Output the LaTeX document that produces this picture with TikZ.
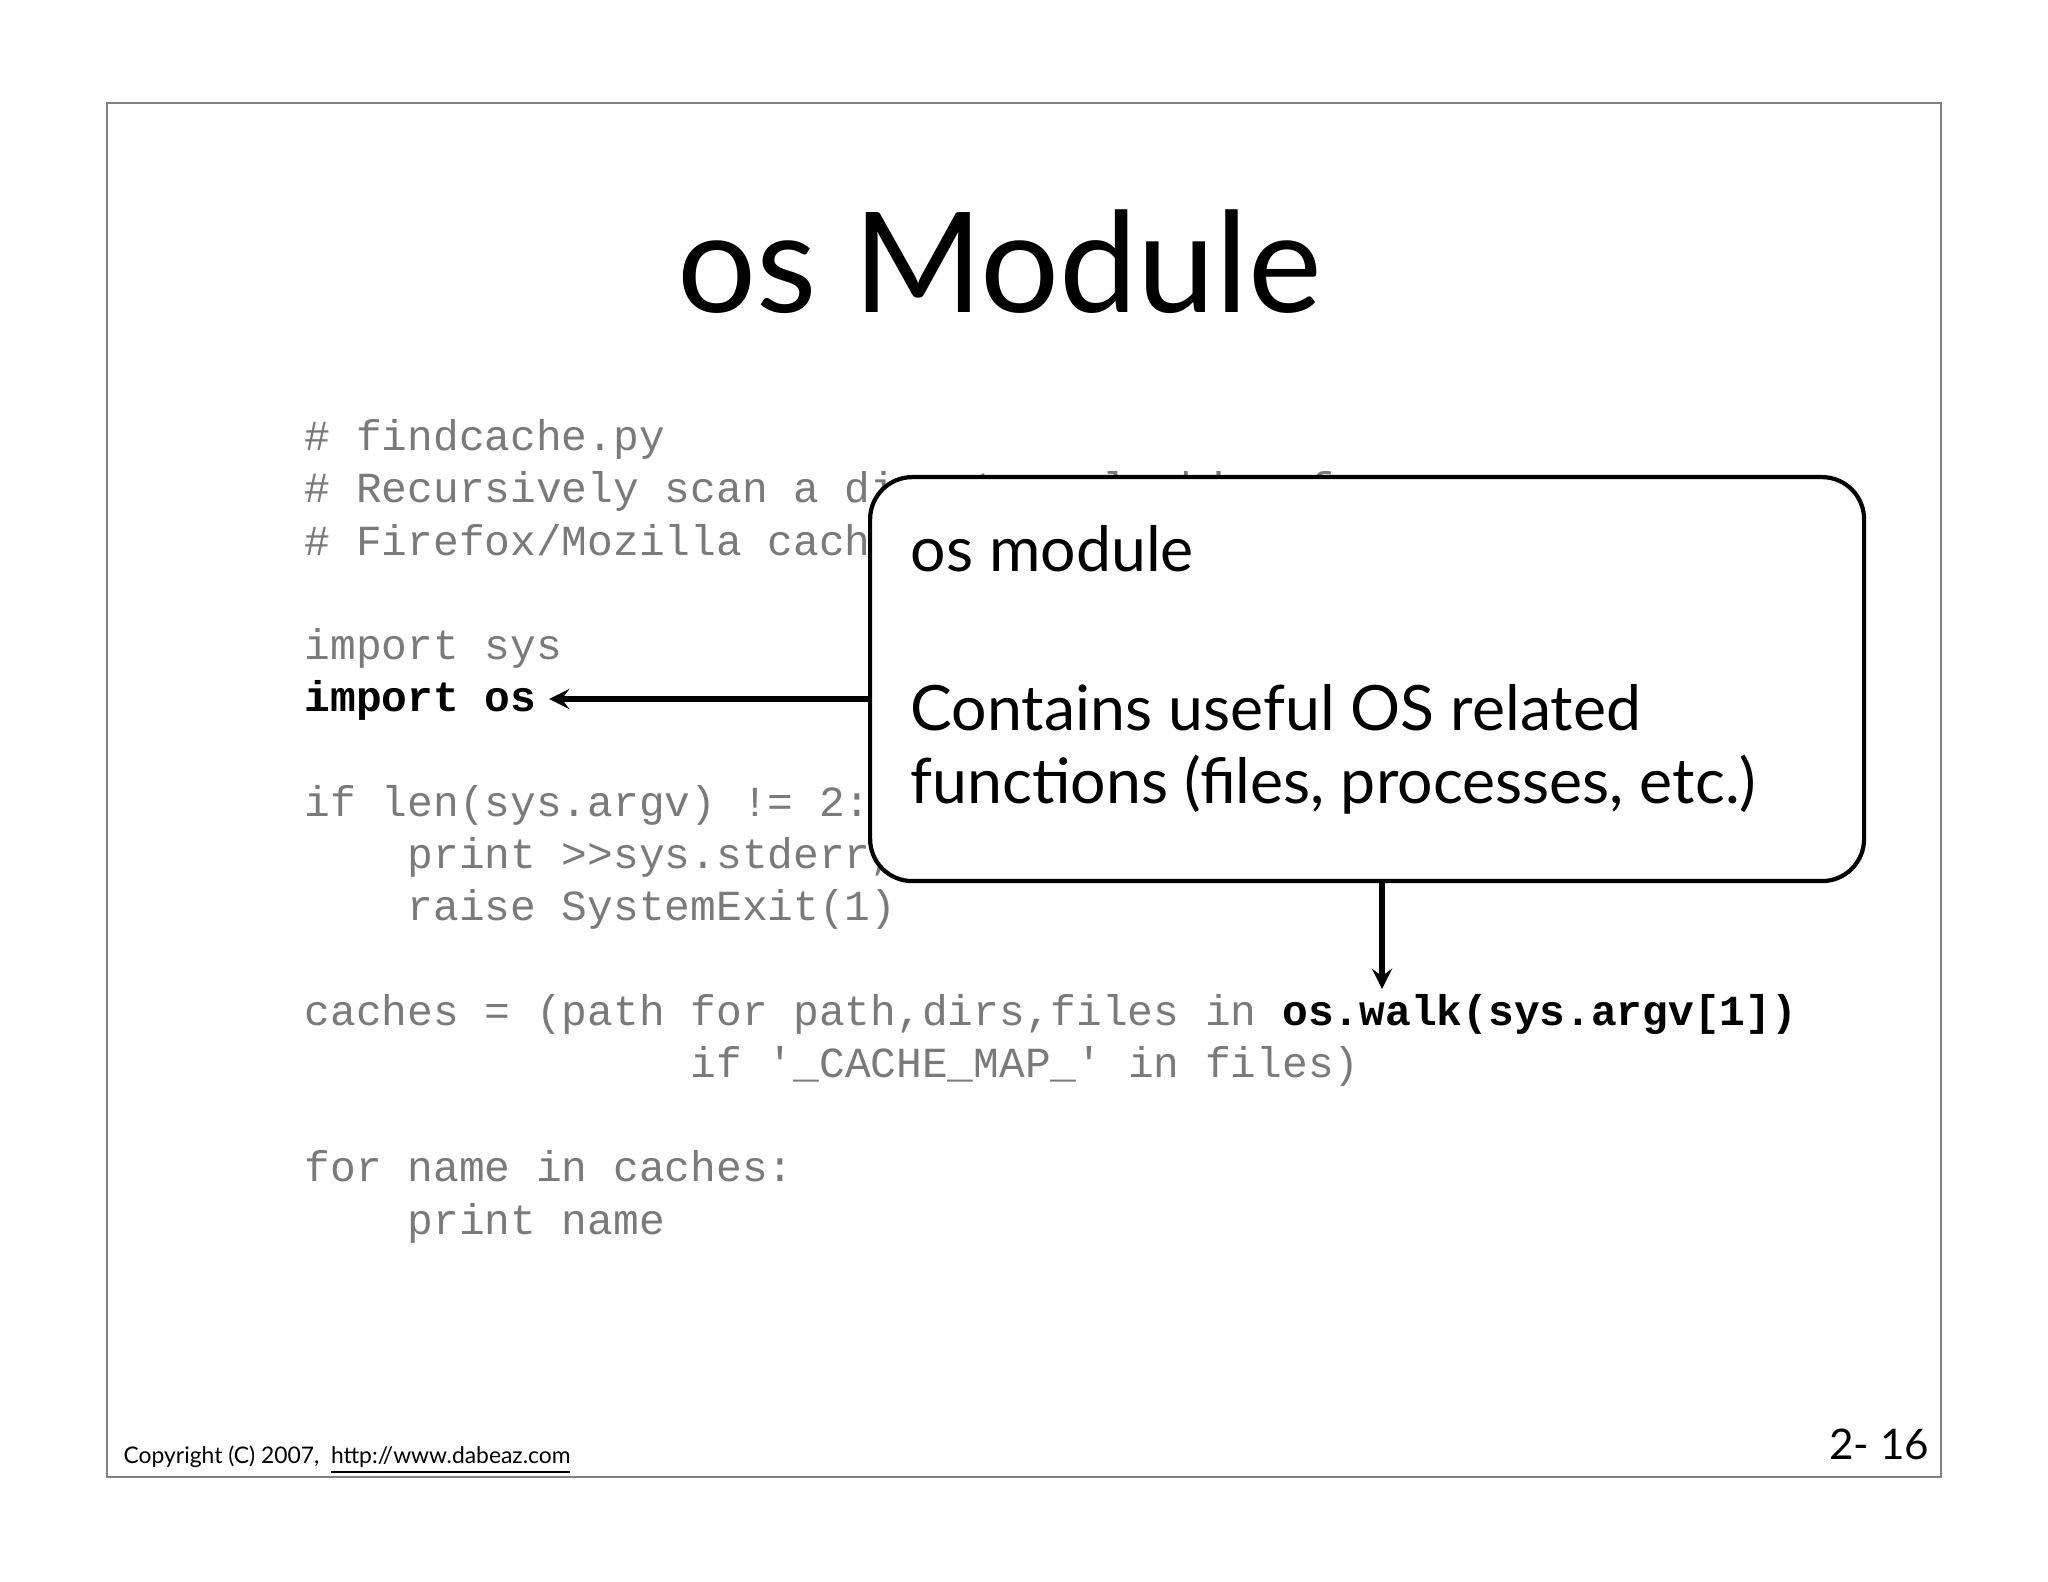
\documentclass[tikz,border=0pt]{standalone}
\usepackage{fontspec}
\setmainfont{Lato}
\setmonofont{Liberation Mono}
\definecolor{codegray}{HTML}{7A7A7A}
\begin{document}
\begin{tikzpicture}[x=1cm,y=1cm,
  code/.style={anchor=base west,inner sep=0pt,text=codegray,font=\ttfamily\fontsize{12.2}{14.8}\selectfont},
  callout/.style={draw=black,line width=1.2pt,rounded corners=12pt,fill=white},
  ctext/.style={anchor=base west,inner sep=0pt,font=\fontsize{17.8}{21}\selectfont},
  arr/.style={-stealth,line width=1.5pt}]
\useasboundingbox (0,0) rectangle (20.48,-15.82);
\fill[white] (0,0) rectangle (20.48,-15.82);
\draw[line width=0.6pt,gray] (1.07,-1.03) rectangle (19.41,-14.77);
\node[anchor=base,inner sep=0pt,font=\fontsize{39.7}{47}\selectfont] (title) at (10.0,-3.13) {os Module};
\def\ly#1{-4.506-#1*0.5224}
\node[code] (l1) at (3.04,{\ly{0}}) {\# findcache.py};
\node[code] (l2) at (3.04,{\ly{1}}) {\# Recursively scan a directory looking for};
\node[code] (l3) at (3.04,{\ly{2}}) {\# Firefox/Mozilla cache files};
\node[code] (l4) at (3.04,{\ly{4}}) {import sys};
\node[code,text=black,font=\ttfamily\bfseries\fontsize{12.2}{14.8}\selectfont] (l5) at (3.04,{\ly{5}}) {import os};
\node[code] (l6) at (3.04,{\ly{7}}) {if len(sys.argv) != 2:};
\node[code] (l7) at (3.04,{\ly{8}}) {\ \ \ \ print >>sys.stderr,"Usage: python findcache.py dirname"};
\node[code] (l8) at (3.04,{\ly{9}}) {\ \ \ \ raise SystemExit(1)};
\node[code] (l9) at (3.04,{\ly{11}}) {caches = (path for path,dirs,files in \textcolor{black}{\bfseries os.walk(sys.argv[1])}};
\node[code] (l10) at (3.04,{\ly{12}}) {\ \ \ \ \ \ \ \ \ \ \ \ \ \ \ if '\_CACHE\_MAP\_' in files)};
\node[code] (l11) at (3.04,{\ly{14}}) {for name in caches:};
\node[code] (l12) at (3.04,{\ly{15}}) {\ \ \ \ print name};
\node[callout,minimum width=9.94cm,minimum height=4.04cm,anchor=north west] (box) at (8.68,-4.75) {};
\node[ctext] (t1) at (9.10,-5.72) {os module};
\node[ctext] (t2) at (9.10,-7.31) {Contains useful OS related};
\node[ctext] (t3) at (9.10,-8.03) {functions (files, processes, etc.)};
\coordinate (a1s) at (8.68,-6.99);
\coordinate (a1e) at (5.49,-6.99);
\coordinate (a2s) at (13.82,-8.79);
\coordinate (a2e) at (13.82,-9.89);
\draw[arr] (a1s) -- (a1e);
\draw[arr] (a2s) -- (a2e);
\node[anchor=base west,inner sep=0pt,font=\fontsize{6.5}{8}\selectfont] (copy) at (1.23,-14.63) {Copyright (C) 2007,\ \ \underline{http://www.dabeaz.com}};
\node[anchor=base east,inner sep=0pt,font=\fontsize{12}{14}\selectfont] (pg) at (19.30,-14.59) {2- 16};
\end{tikzpicture}
\end{document}
